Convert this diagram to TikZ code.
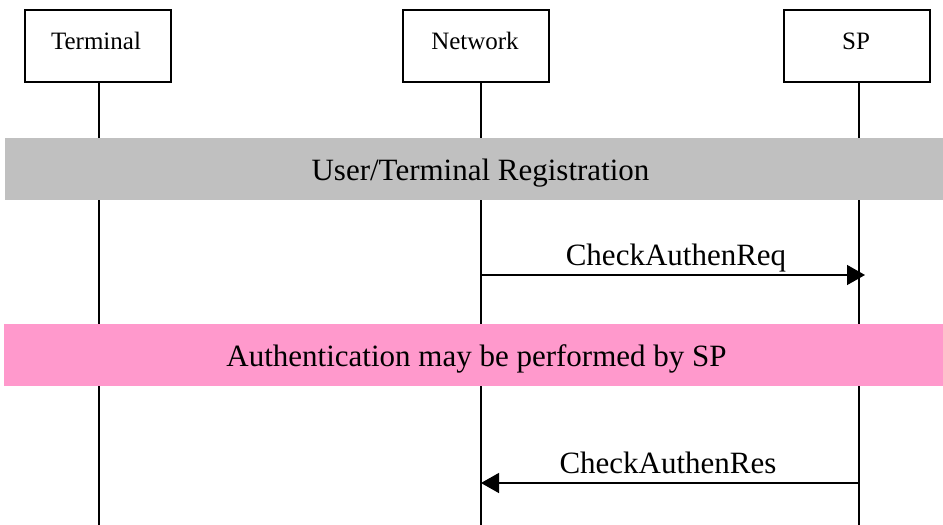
\documentclass[tikz,border=0pt]{standalone}
\usepackage{fontspec}
\setmainfont{Liberation Serif}
\usetikzlibrary{arrows.meta}
\definecolor{barGray}{HTML}{C0C0C0}
\definecolor{barPink}{HTML}{FF99CC}
\begin{document}
\begin{tikzpicture}[x=1pt,y=-1pt,
  entity/.style={draw=black,line width=1.3pt,fill=white,minimum width=146pt,minimum height=72pt,inner sep=0pt},
  entitytext/.style={anchor=base,inner sep=0pt,font=\fontsize{25}{28}\selectfont},
  lifeline/.style={line width=1.4pt},
  phasebar/.style={inner sep=0pt,minimum height=62pt},
  bartext/.style={anchor=base,inner sep=0pt,font=\fontsize{31}{34}\selectfont},
  msg/.style={line width=1.4pt,-{Triangle[length=18pt,width=20pt]}},
  msglabel/.style={anchor=base,yshift=10pt,font=\fontsize{31}{34}\selectfont}
]
\useasboundingbox (0,0) rectangle (943,525);
% lifeline anchor points
\coordinate (tTop) at (99,82);  \coordinate (tBot) at (99,525);
\coordinate (nTop) at (481,82); \coordinate (nBot) at (481,525);
\coordinate (sTop) at (859,82); \coordinate (sBot) at (859,525);
\draw[lifeline] (tTop) -- (tBot);
\draw[lifeline] (nTop) -- (nBot);
\draw[lifeline] (sTop) -- (sBot);
% entities
\node[entity] (term) at (98,46) {};
\node[entitytext] (termL) at (96,49.5) {Terminal};
\node[entity] (net) at (476,46) {};
\node[entitytext] (netL) at (475,49.5) {Network};
\node[entity] (sp) at (857,46) {};
\node[entitytext] (spL) at (856,49.5) {SP};
% phase bars
\node[phasebar,fill=barGray,minimum width=938pt] (reg) at (474,169) {};
\node[bartext] (regL) at (480.5,180) {User/Terminal Registration};
\node[phasebar,fill=barPink,minimum width=939pt] (auth) at (473.5,355) {};
\node[bartext] (authL) at (476.5,366) {Authentication may be performed by SP};
% messages
\coordinate (reqS) at (481,275); \coordinate (reqE) at (865,275);
\draw[msg] (reqS) -- (reqE) node[pos=0.5,msglabel,xshift=3pt] (reqL) {CheckAuthenReq};
\coordinate (resS) at (859,483); \coordinate (resE) at (481,483);
\draw[msg] (resS) -- (resE) node[pos=0.5,msglabel,xshift=-2pt] (resL) {CheckAuthenRes};
\end{tikzpicture}
\end{document}
